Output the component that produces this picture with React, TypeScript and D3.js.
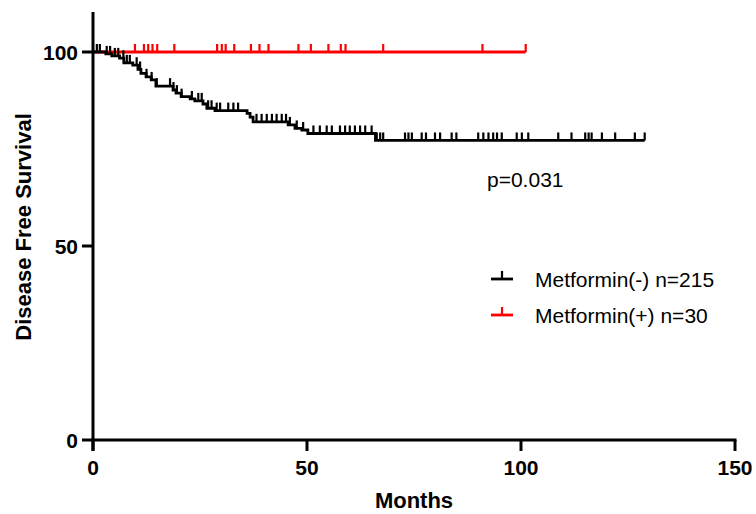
import React from "react";
import * as d3 from "d3";

// Kaplan-Meier steps: Metformin(-)
const blackStepTimes = [0, 3.0, 4.4, 6.2, 7.2, 9.3, 10.5, 11.2, 12.4, 13.6, 14.7, 18.7, 19.4, 20.6, 22.7, 23.8, 25.7, 26.6, 28.5, 36.0, 36.7, 37.4, 45.6, 47.2, 48.8, 50.2, 66.0];
const blackStepSurv = [100, 99.5, 99.0, 98.4, 97.2, 96.6, 95.5, 94.5, 93.6, 92.8, 91.2, 90.2, 89.4, 88.5, 87.9, 87.4, 86.6, 85.5, 84.9, 84.2, 83.2, 82.0, 81.2, 80.3, 79.9, 79.0, 77.2];
const blackEnd = 128.9;
const blackCensor = [0.9, 1.6, 3.2, 4.0, 5.1, 5.9, 7.1, 7.9, 8.6, 10.2, 11.0, 12.5, 13.7, 14.9, 18.0, 18.8, 19.6, 20.7, 23.1, 24.6, 25.4, 26.9, 27.7, 28.9, 29.7, 31.6, 32.8, 33.9, 38.2, 39.4, 40.6, 41.8, 42.9, 44.1, 45.1, 46.0, 47.6, 49.1, 51.5, 53.0, 54.6, 55.8, 57.7, 58.9, 60.0, 61.2, 62.4, 63.6, 65.1, 66.3, 67.1, 67.8, 72.9, 73.7, 74.5, 76.8, 77.8, 79.9, 81.1, 83.8, 84.9, 90.0, 91.2, 92.4, 93.5, 94.4, 95.5, 99.0, 100.2, 101.7, 108.7, 111.8, 115.0, 115.8, 116.5, 118.9, 122.0, 126.6, 128.9];

// Metformin(+)
const redStepTimes = [0];
const redStepSurv = [100];
const redEnd = 101.1;
const redCensor = [9.8, 11.9, 12.9, 13.9, 15.0, 19.0, 29.0, 30.1, 31.0, 33.0, 36.9, 38.9, 41.0, 48.0, 50.9, 55.0, 57.9, 59.0, 67.8, 91.0, 101.1];

const xTicks = [0, 50, 100, 150];
const yTicks = [0, 50, 100];
const legendLabels = ["Metformin(-) n=215", "Metformin(+) n=30"];
const seriesColors = ["#000000", "#ff0000"];
const pValueText = "p=0.031";

const FONT = "'Liberation Sans', Arial, Helvetica, sans-serif";

export default function App() {
  const x = d3.scaleLinear().domain([0, 150]).range([93, 735]);
  const y = d3.scaleLinear().domain([0, 110]).range([440, 13.2]);

  const survAt = (times: number[], surv: number[], t: number) => {
    let s = surv[0];
    for (let i = 0; i < times.length; i++) if (times[i] <= t) s = surv[i];
    return s;
  };

  const line = d3
    .line<[number, number]>()
    .x((d) => x(d[0]))
    .y((d) => y(d[1]))
    .curve(d3.curveStepAfter);

  const series = [
    { times: redStepTimes, surv: redStepSurv, end: redEnd, censor: redCensor, color: seriesColors[1] },
    { times: blackStepTimes, surv: blackStepSurv, end: blackEnd, censor: blackCensor, color: seriesColors[0] },
  ];

  const tickH = 8;
  const axisTick = 11;

  return (
    <svg width={756} height={514} style={{ position: "absolute", left: 0, top: 0, background: "#fff" }}>
      {series.map((s, si) => {
        const pts: [number, number][] = s.times.map((t, i) => [t, s.surv[i]]);
        pts.push([s.end, s.surv[s.surv.length - 1]]);
        return (
          <g key={si}>
            <path d={line(pts) || ""} fill="none" stroke={s.color} strokeWidth={2.8} />
            {s.censor.map((c, ci) => {
              const yy = y(survAt(s.times, s.surv, c));
              return (
                <line key={ci} x1={x(c)} x2={x(c)} y1={yy} y2={yy - tickH} stroke={s.color} strokeWidth={2.2} />
              );
            })}
          </g>
        );
      })}

      {/* Axes */}
      <line x1={x(0)} x2={x(0)} y1={12} y2={y(0) + axisTick} stroke="#000" strokeWidth={3} />
      <line x1={x(0) - 1.5} x2={x(150) + 1.5} y1={y(0)} y2={y(0)} stroke="#000" strokeWidth={3} />
      {yTicks.map((t) => (
        <g key={"y" + t}>
          <line x1={x(0) - axisTick} x2={x(0)} y1={y(t)} y2={y(t)} stroke="#000" strokeWidth={3} />
          <text x={x(0) - 15} y={y(t)} dy="0.36em" textAnchor="end" fontFamily={FONT} fontWeight="bold" fontSize={21}>
            {t}
          </text>
        </g>
      ))}
      {xTicks.map((t) => (
        <g key={"x" + t}>
          <line x1={x(t)} x2={x(t)} y1={y(0)} y2={y(0) + axisTick} stroke="#000" strokeWidth={3} />
          <text x={x(t)} y={y(0) + 35} textAnchor="middle" fontFamily={FONT} fontWeight="bold" fontSize={21}>
            {t}
          </text>
        </g>
      ))}

      <text x={414} y={508} textAnchor="middle" fontFamily={FONT} fontWeight="bold" fontSize={22}>
        Months
      </text>
      <text
        transform={`translate(31,227) rotate(-90)`}
        textAnchor="middle"
        fontFamily={FONT}
        fontWeight="bold"
        fontSize={22}
      >
        Disease Free Survival
      </text>

      <text x={487} y={187} fontFamily={FONT} fontSize={21}>
        {pValueText}
      </text>

      {legendLabels.map((lab, i) => {
        const ly = 279 + i * 36;
        return (
          <g key={lab}>
            <line x1={491} x2={513} y1={ly} y2={ly} stroke={seriesColors[i]} strokeWidth={2.8} />
            <line x1={502} x2={502} y1={ly} y2={ly - 8} stroke={seriesColors[i]} strokeWidth={2.2} />
            <text x={535} y={ly + 8} fontFamily={FONT} fontSize={21}>
              {lab}
            </text>
          </g>
        );
      })}
    </svg>
  );
}
